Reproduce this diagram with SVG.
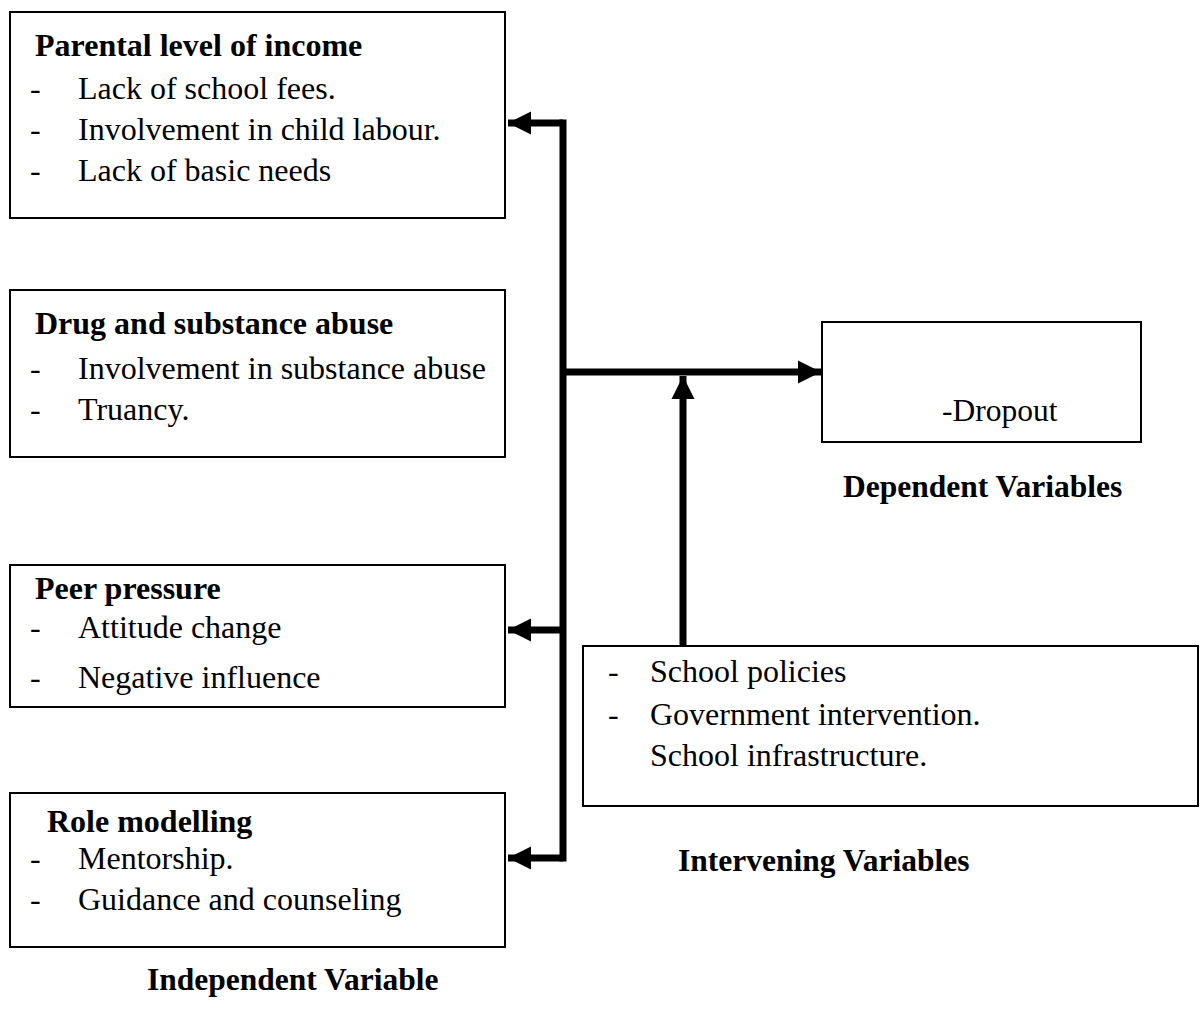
<svg xmlns="http://www.w3.org/2000/svg" width="1202" height="1013" viewBox="0 0 1202 1013">
<defs>
<style>
.box{fill:#fff;stroke:#000;stroke-width:2}
.t{font-family:"Liberation Serif","Times New Roman",serif;font-size:32px;fill:#000}
.b{font-weight:bold}
.l{font-size:31.5px}
.c{fill:none;stroke:#000;stroke-width:7}
</style>
<marker id="ah" viewBox="0 0 10 10" refX="10" refY="5" markerWidth="3.3" markerHeight="3.3" markerUnits="strokeWidth" orient="auto">
<path d="M0,0 L10,5 L0,10 z" fill="#000"/>
</marker>
</defs>
<rect width="1202" height="1013" fill="#fff"/>
<g id="connectors">
<path class="c" d="M563,119.5 V861.5"/>
<path class="c" d="M563,123 H508" marker-end="url(#ah)"/>
<path class="c" d="M563,630 H508" marker-end="url(#ah)"/>
<path class="c" d="M563,858 H508" marker-end="url(#ah)"/>
<path class="c" d="M563,372 H821" marker-end="url(#ah)"/>
<path class="c" d="M683,646 V376" marker-end="url(#ah)"/>
</g>
<g id="parental">
<rect class="box" x="10" y="12" width="495" height="206"/>
<text class="t b" x="35" y="56">Parental level of income</text>
<text class="t" x="30" y="99">-</text><text class="t" x="78" y="99">Lack of school fees.</text>
<text class="t" x="30" y="140">-</text><text class="t" x="78" y="140">Involvement in child labour.</text>
<text class="t" x="30" y="181">-</text><text class="t" x="78" y="181">Lack of basic needs</text>
</g>
<g id="drug">
<rect class="box" x="10" y="290" width="495" height="167"/>
<text class="t b" x="35" y="334">Drug and substance abuse</text>
<text class="t" x="30" y="379">-</text><text class="t" x="78" y="379">Involvement in substance abuse</text>
<text class="t" x="30" y="420">-</text><text class="t" x="78" y="420">Truancy.</text>
</g>
<g id="peer">
<rect class="box" x="10" y="565" width="495" height="142"/>
<text class="t b" x="35" y="599">Peer pressure</text>
<text class="t" x="30" y="638">-</text><text class="t" x="78" y="638">Attitude change</text>
<text class="t" x="30" y="688">-</text><text class="t" x="78" y="688">Negative influence</text>
</g>
<g id="role">
<rect class="box" x="10" y="793" width="495" height="154"/>
<text class="t b" x="47" y="832">Role modelling</text>
<text class="t" x="30" y="869">-</text><text class="t" x="78" y="869">Mentorship.</text>
<text class="t" x="30" y="910">-</text><text class="t" x="78" y="910">Guidance and counseling</text>
</g>
<text class="t b l" x="147" y="990">Independent Variable</text>
<g id="dropout">
<rect class="box" x="822" y="322" width="319" height="120"/>
<text class="t l" x="942" y="421">-Dropout</text>
</g>
<text class="t b l" x="843" y="497">Dependent Variables</text>
<g id="intervening">
<rect class="box" x="583" y="646" width="615" height="160"/>
<text class="t" x="608" y="682">-</text><text class="t" x="650" y="682">School policies</text>
<text class="t" x="608" y="725">-</text><text class="t" x="650" y="725">Government intervention.</text>
<text class="t" x="650" y="766">School infrastructure.</text>
</g>
<text class="t b l" x="678" y="871">Intervening Variables</text>
</svg>
